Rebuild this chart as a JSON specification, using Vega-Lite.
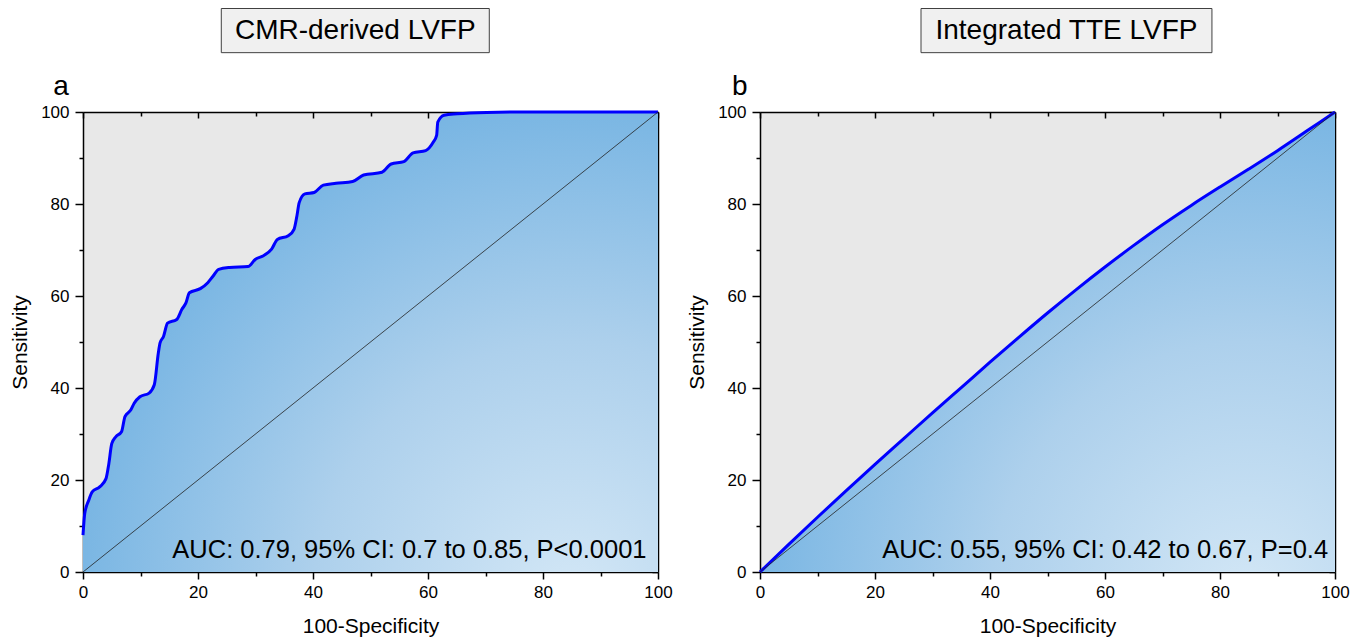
{
  "$schema": "https://vega.github.io/schema/vega-lite/v6.json",
  "background": "white",
  "padding": {"left": 9, "top": 7, "right": 5, "bottom": 5},
  "config": {
    "view": {"stroke": null, "fill": "#e8e8e8"},
    "font": "Liberation Sans",
    "axis": {"grid": false, "ticks": true, "zindex": 1, "domainColor": "black", "domainWidth": 1.5, "tickColor": "black", "tickWidth": 1.5, "labelColor": "black", "labelFontSize": 17, "labelFont": "Liberation Sans", "titleFont": "Liberation Sans", "titleFontSize": 21, "titleFontWeight": "normal", "titleColor": "black", "labelFlush": false}
  },
  "datasets": {
    "cmr": [
      {"fpr": 0, "tpr": 8}, {"fpr": 0.3, "tpr": 12.7}, {"fpr": 1.0, "tpr": 15.6}, {"fpr": 1.6, "tpr": 17.4}, {"fpr": 2.9, "tpr": 18.5}, {"fpr": 4.0, "tpr": 20.3}, {"fpr": 4.5, "tpr": 23.6}, {"fpr": 5.0, "tpr": 27.9}, {"fpr": 5.7, "tpr": 29.4}, {"fpr": 6.7, "tpr": 30.5}, {"fpr": 7.3, "tpr": 33.8}, {"fpr": 8.3, "tpr": 35.2}, {"fpr": 8.9, "tpr": 36.7}, {"fpr": 9.9, "tpr": 38.1}, {"fpr": 11.5, "tpr": 38.9}, {"fpr": 12.4, "tpr": 40.7}, {"fpr": 13.1, "tpr": 47.6}, {"fpr": 13.4, "tpr": 49.8}, {"fpr": 14.0, "tpr": 51.2}, {"fpr": 14.7, "tpr": 54.1}, {"fpr": 16.3, "tpr": 54.9}, {"fpr": 17.2, "tpr": 57.1}, {"fpr": 17.9, "tpr": 58.5}, {"fpr": 18.5, "tpr": 60.7}, {"fpr": 20.4, "tpr": 61.6}, {"fpr": 21.7, "tpr": 62.9}, {"fpr": 22.6, "tpr": 64.3}, {"fpr": 23.6, "tpr": 65.8}, {"fpr": 25.5, "tpr": 66.2}, {"fpr": 28.7, "tpr": 66.4}, {"fpr": 30.0, "tpr": 68.0}, {"fpr": 31.3, "tpr": 68.7}, {"fpr": 32.8, "tpr": 70.2}, {"fpr": 33.8, "tpr": 72.3}, {"fpr": 35.7, "tpr": 73.1}, {"fpr": 36.7, "tpr": 74.5}, {"fpr": 37.2, "tpr": 77.4}, {"fpr": 37.6, "tpr": 80.3}, {"fpr": 38.6, "tpr": 82.2}, {"fpr": 40.2, "tpr": 82.5}, {"fpr": 41.8, "tpr": 84.1}, {"fpr": 44.0, "tpr": 84.5}, {"fpr": 46.9, "tpr": 84.9}, {"fpr": 48.8, "tpr": 86.3}, {"fpr": 52.0, "tpr": 86.9}, {"fpr": 53.6, "tpr": 88.7}, {"fpr": 55.8, "tpr": 89.2}, {"fpr": 57.4, "tpr": 91.1}, {"fpr": 59.6, "tpr": 91.6}, {"fpr": 60.9, "tpr": 93.4}, {"fpr": 61.5, "tpr": 94.9}, {"fpr": 61.7, "tpr": 97.8}, {"fpr": 62.8, "tpr": 99.3}, {"fpr": 65.1, "tpr": 99.6}, {"fpr": 70.2, "tpr": 99.9}, {"fpr": 76.5, "tpr": 100}, {"fpr": 100, "tpr": 100}
    ],
    "tte": [
      {"fpr": 0, "tpr": 0}, {"fpr": 5, "tpr": 6.0}, {"fpr": 10, "tpr": 11.9}, {"fpr": 15, "tpr": 17.7}, {"fpr": 20, "tpr": 23.4}, {"fpr": 25, "tpr": 29.0}, {"fpr": 30, "tpr": 34.6}, {"fpr": 35, "tpr": 40.1}, {"fpr": 40, "tpr": 45.6}, {"fpr": 45, "tpr": 51.0}, {"fpr": 50, "tpr": 56.3}, {"fpr": 55, "tpr": 61.4}, {"fpr": 60, "tpr": 66.3}, {"fpr": 65, "tpr": 71.0}, {"fpr": 70, "tpr": 75.5}, {"fpr": 75, "tpr": 79.7}, {"fpr": 80, "tpr": 83.7}, {"fpr": 85, "tpr": 87.6}, {"fpr": 90, "tpr": 91.6}, {"fpr": 95, "tpr": 95.8}, {"fpr": 100, "tpr": 100}
    ]
  },
  "spacing": 13,
  "hconcat": [
    {
      "width": 575,
      "height": 460,
      "layer": [
        {
          "data": {"name": "cmr"},
          "mark": {"type": "area", "interpolate": "monotone", "color": {"gradient": "radial", "x1": 0.85, "y1": 0.95, "r1": 0, "x2": 0.85, "y2": 0.95, "r2": 1, "stops": [{"offset": 0, "color": "#d3e7f6"}, {"offset": 0.45, "color": "#add0ec"}, {"offset": 1, "color": "#68ade0"}]}},
          "encoding": {
            "x": {"field": "fpr", "type": "quantitative", "scale": {"domain": [0, 100], "nice": false}, "axis": {"orient": "bottom", "values": [0, 20, 40, 60, 80, 100], "domain": false, "tickSize": 7, "labelPadding": 5, "title": "100-Specificity", "titlePadding": 15}},
            "y": {"field": "tpr", "type": "quantitative", "scale": {"domain": [0, 100], "nice": false}, "axis": {"orient": "left", "values": [0, 20, 40, 60, 80, 100], "domain": false, "tickSize": 8, "labelPadding": 6, "title": "Sensitivity", "titlePadding": 10}}
          }
        },
        {
          "data": {"name": "cmr"},
          "mark": {"type": "line", "interpolate": "monotone", "color": "#0000ff", "strokeWidth": 3},
          "encoding": {
            "x": {"field": "fpr", "type": "quantitative", "scale": {"domain": [0, 100], "nice": false}, "axis": {"orient": "bottom", "values": [10, 30, 50, 70, 90], "tickSize": 4, "labels": false, "domain": false, "title": null}},
            "y": {"field": "tpr", "type": "quantitative", "scale": {"domain": [0, 100], "nice": false}, "axis": {"orient": "left", "values": [10, 30, 50, 70, 90], "tickSize": 4, "labels": false, "domain": false, "title": null}}
          }
        },
        {
          "data": {"values": [{}]},
          "mark": {"type": "rule", "color": "#222222", "strokeWidth": 0.8},
          "encoding": {
            "x": {"datum": 0, "type": "quantitative", "scale": {"domain": [0, 100], "nice": false}, "axis": {"orient": "top", "values": [0, 20, 40, 60, 80, 100], "tickSize": -6, "labels": false, "domain": false, "title": null}},
            "y": {"datum": 0, "type": "quantitative", "scale": {"domain": [0, 100], "nice": false}, "axis": {"orient": "right", "values": [0, 20, 40, 60, 80, 100], "tickSize": -6, "labels": false, "domain": false, "title": null}},
            "x2": {"datum": 100},
            "y2": {"datum": 100}
          }
        },
        {
          "data": {"values": [{}]},
          "mark": {"type": "text", "align": "right", "baseline": "alphabetic", "fontSize": 25.5, "color": "black"},
          "encoding": {
            "x": {"datum": 98, "type": "quantitative", "scale": {"domain": [0, 100], "nice": false}, "axis": {"orient": "top", "values": [10, 30, 50, 70, 90], "tickSize": -4, "labels": false, "domain": false, "title": null}},
            "y": {"datum": 3, "type": "quantitative", "scale": {"domain": [0, 100], "nice": false}, "axis": {"orient": "right", "values": [10, 30, 50, 70, 90], "tickSize": -4, "labels": false, "domain": false, "title": null}},
            "text": {"value": "AUC: 0.79, 95% CI: 0.7 to 0.85, P<0.0001"}
          }
        },
        {
          "data": {"values": [{}]},
          "mark": {"type": "rect", "fill": "#f0f0f0", "stroke": "#404040", "strokeWidth": 1},
          "encoding": {
            "x": {"datum": 24.05, "type": "quantitative", "scale": {"domain": [0, 100], "nice": false}, "axis": {"orient": "bottom", "ticks": false, "labels": false, "domain": true, "title": null}},
            "x2": {"datum": 70.66},
            "y": {"datum": 112.9, "type": "quantitative", "scale": {"domain": [0, 100], "nice": false}, "axis": {"orient": "left", "ticks": false, "labels": false, "domain": true, "title": null}},
            "y2": {"datum": 122.5}
          }
        },
        {
          "data": {"values": [{}]},
          "mark": {"type": "text", "align": "center", "baseline": "middle", "fontSize": 28, "color": "black"},
          "encoding": {
            "x": {"datum": 47.35, "type": "quantitative", "scale": {"domain": [0, 100], "nice": false}, "axis": {"orient": "top", "ticks": false, "labels": false, "domain": true, "title": null}},
            "y": {"datum": 117.7, "type": "quantitative", "scale": {"domain": [0, 100], "nice": false}, "axis": {"orient": "right", "ticks": false, "labels": false, "domain": true, "title": null}},
            "text": {"value": "CMR-derived LVFP"}
          }
        },
        {
          "data": {"values": [{}]},
          "mark": {"type": "text", "align": "center", "baseline": "alphabetic", "fontSize": 28, "color": "black"},
          "encoding": {
            "x": {"datum": -3.8, "type": "quantitative", "scale": {"domain": [0, 100], "nice": false}, "axis": null},
            "y": {"datum": 103.7, "type": "quantitative", "scale": {"domain": [0, 100], "nice": false}, "axis": null},
            "text": {"value": "a"}
          }
        }
      ],
      "resolve": {"axis": {"x": "independent", "y": "independent"}}
    },
    {
      "width": 575,
      "height": 460,
      "layer": [
        {
          "data": {"name": "tte"},
          "mark": {"type": "area", "interpolate": "monotone", "color": {"gradient": "radial", "x1": 0.85, "y1": 0.95, "r1": 0, "x2": 0.85, "y2": 0.95, "r2": 1, "stops": [{"offset": 0, "color": "#d3e7f6"}, {"offset": 0.45, "color": "#add0ec"}, {"offset": 1, "color": "#68ade0"}]}},
          "encoding": {
            "x": {"field": "fpr", "type": "quantitative", "scale": {"domain": [0, 100], "nice": false}, "axis": {"orient": "bottom", "values": [0, 20, 40, 60, 80, 100], "domain": false, "tickSize": 7, "labelPadding": 5, "title": "100-Specificity", "titlePadding": 15}},
            "y": {"field": "tpr", "type": "quantitative", "scale": {"domain": [0, 100], "nice": false}, "axis": {"orient": "left", "values": [0, 20, 40, 60, 80, 100], "domain": false, "tickSize": 8, "labelPadding": 6, "title": "Sensitivity", "titlePadding": 10}}
          }
        },
        {
          "data": {"name": "tte"},
          "mark": {"type": "line", "interpolate": "monotone", "color": "#0000ff", "strokeWidth": 3},
          "encoding": {
            "x": {"field": "fpr", "type": "quantitative", "scale": {"domain": [0, 100], "nice": false}, "axis": {"orient": "bottom", "values": [10, 30, 50, 70, 90], "tickSize": 4, "labels": false, "domain": false, "title": null}},
            "y": {"field": "tpr", "type": "quantitative", "scale": {"domain": [0, 100], "nice": false}, "axis": {"orient": "left", "values": [10, 30, 50, 70, 90], "tickSize": 4, "labels": false, "domain": false, "title": null}}
          }
        },
        {
          "data": {"values": [{}]},
          "mark": {"type": "rule", "color": "#222222", "strokeWidth": 0.8},
          "encoding": {
            "x": {"datum": 0, "type": "quantitative", "scale": {"domain": [0, 100], "nice": false}, "axis": {"orient": "top", "values": [0, 20, 40, 60, 80, 100], "tickSize": -6, "labels": false, "domain": false, "title": null}},
            "y": {"datum": 0, "type": "quantitative", "scale": {"domain": [0, 100], "nice": false}, "axis": {"orient": "right", "values": [0, 20, 40, 60, 80, 100], "tickSize": -6, "labels": false, "domain": false, "title": null}},
            "x2": {"datum": 100},
            "y2": {"datum": 100}
          }
        },
        {
          "data": {"values": [{}]},
          "mark": {"type": "text", "align": "right", "baseline": "alphabetic", "fontSize": 25.5, "color": "black"},
          "encoding": {
            "x": {"datum": 98.8, "type": "quantitative", "scale": {"domain": [0, 100], "nice": false}, "axis": {"orient": "top", "values": [10, 30, 50, 70, 90], "tickSize": -4, "labels": false, "domain": false, "title": null}},
            "y": {"datum": 3, "type": "quantitative", "scale": {"domain": [0, 100], "nice": false}, "axis": {"orient": "right", "values": [10, 30, 50, 70, 90], "tickSize": -4, "labels": false, "domain": false, "title": null}},
            "text": {"value": "AUC: 0.55, 95% CI: 0.42 to 0.67, P=0.4"}
          }
        },
        {
          "data": {"values": [{}]},
          "mark": {"type": "rect", "fill": "#f0f0f0", "stroke": "#404040", "strokeWidth": 1},
          "encoding": {
            "x": {"datum": 28.0, "type": "quantitative", "scale": {"domain": [0, 100], "nice": false}, "axis": {"orient": "bottom", "ticks": false, "labels": false, "domain": true, "title": null}},
            "x2": {"datum": 78.6},
            "y": {"datum": 112.9, "type": "quantitative", "scale": {"domain": [0, 100], "nice": false}, "axis": {"orient": "left", "ticks": false, "labels": false, "domain": true, "title": null}},
            "y2": {"datum": 122.5}
          }
        },
        {
          "data": {"values": [{}]},
          "mark": {"type": "text", "align": "center", "baseline": "middle", "fontSize": 28, "color": "black"},
          "encoding": {
            "x": {"datum": 53.3, "type": "quantitative", "scale": {"domain": [0, 100], "nice": false}, "axis": {"orient": "top", "ticks": false, "labels": false, "domain": true, "title": null}},
            "y": {"datum": 117.7, "type": "quantitative", "scale": {"domain": [0, 100], "nice": false}, "axis": {"orient": "right", "ticks": false, "labels": false, "domain": true, "title": null}},
            "text": {"value": "Integrated TTE LVFP"}
          }
        },
        {
          "data": {"values": [{}]},
          "mark": {"type": "text", "align": "center", "baseline": "alphabetic", "fontSize": 28, "color": "black"},
          "encoding": {
            "x": {"datum": -3.5, "type": "quantitative", "scale": {"domain": [0, 100], "nice": false}, "axis": null},
            "y": {"datum": 103.7, "type": "quantitative", "scale": {"domain": [0, 100], "nice": false}, "axis": null},
            "text": {"value": "b"}
          }
        }
      ],
      "resolve": {"axis": {"x": "independent", "y": "independent"}}
    }
  ]
}
